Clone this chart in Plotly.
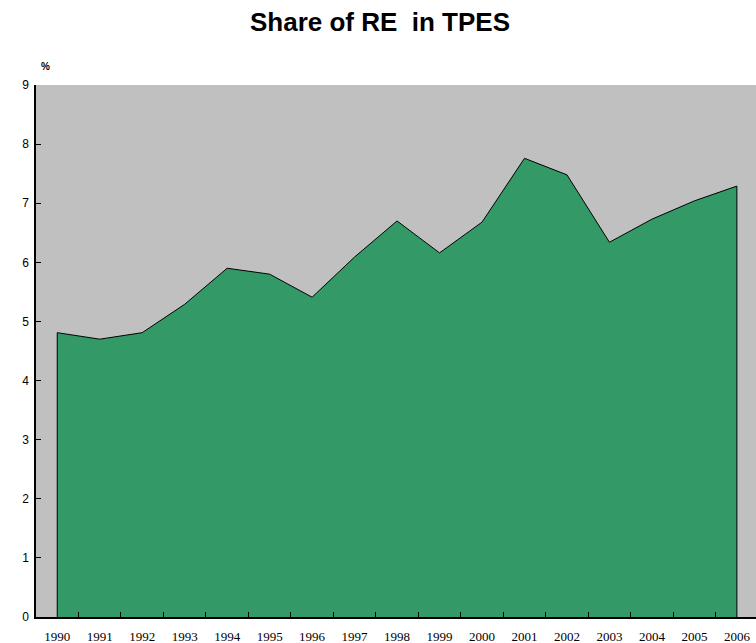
import plotly.graph_objects as go

years = [str(y) for y in range(1990, 2007)]
share = [4.81, 4.70, 4.81, 5.29, 5.90, 5.80, 5.41, 6.09, 6.70, 6.16, 6.68, 7.76, 7.48, 6.34, 6.73, 7.04, 7.29]
yticks = list(range(0, 10))

xs = [years[0]] + years + [years[-1]]
ys = [0] + share + [0]

fig = go.Figure()
fig.add_trace(go.Scatter(
    x=xs, y=ys, mode="lines", fill="toself",
    fillcolor="#339966", line=dict(color="#000000", width=1),
    hoverinfo="skip", showlegend=False,
))

fig.update_layout(
    width=756, height=643,
    margin=dict(l=36, r=0, t=85, b=26, autoexpand=False),
    paper_bgcolor="#ffffff",
    plot_bgcolor="#c0c0c0",
    title=dict(text="<b>Share of RE  in TPES</b>", xref="container", x=380 / 756, xanchor="center",
               yref="container", y=1 - 22 / 643, yanchor="middle",
               font=dict(family="Liberation Sans, Arial", size=26, color="#000000")),
    xaxis=dict(type="category", categoryorder="array", categoryarray=years,
               range=[-0.5, 16.45], tickson="boundaries", ticks="inside", ticklen=5,
               tickcolor="#000000", showline=True, linecolor="#000000", linewidth=1.5,
               showgrid=False, zeroline=False, ticklabelstandoff=7,
               tickfont=dict(family="Liberation Serif, DejaVu Serif, serif", size=13, color="#000000")),
    yaxis=dict(range=[0, 9], tickvals=yticks, ticks="inside", ticklen=5,
               tickcolor="#000000", showline=True, linecolor="#000000", linewidth=1.5,
               showgrid=False, zeroline=False, ticklabelstandoff=3,
               tickfont=dict(family="Liberation Sans, Arial", size=12, color="#000000")),
    annotations=[dict(text="<b>%</b>", xref="paper", yref="paper", x=0.0, y=1.02,
                      xanchor="center", yanchor="bottom", showarrow=False, xshift=9,
                      font=dict(family="Liberation Sans, Arial", size=10, color="#000000"))],
)

fig.write_html("out.html", config={"displayModeBar": False},
               post_script="document.body.style.margin='0px';document.body.style.overflow='hidden';")
